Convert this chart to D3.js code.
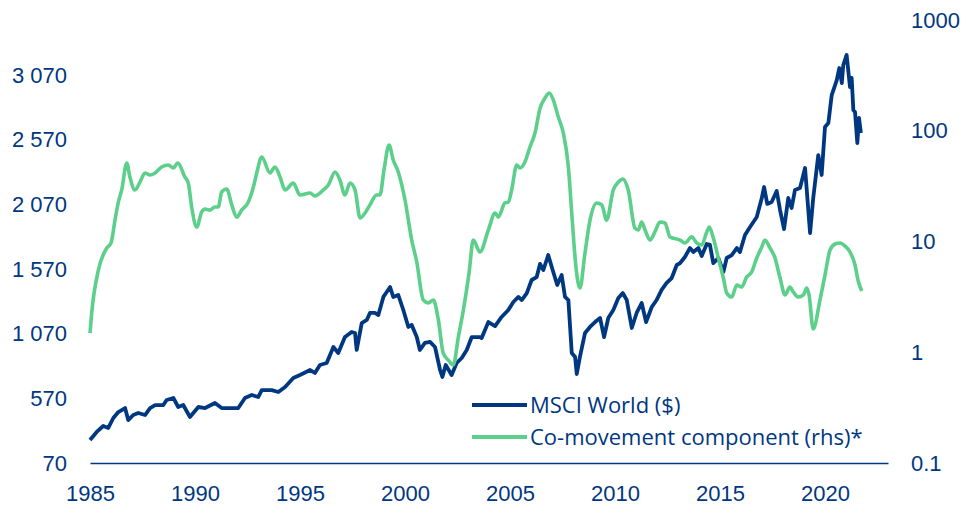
<!DOCTYPE html>
<html>
<head>
<meta charset="utf-8">
<script src="https://cdn.jsdelivr.net/npm/d3@7"></script>
<style>
  body { margin: 0; background: #fff; }
  svg { display: block; font-family: "Open Sans", sans-serif; }
  .axis text { fill: #003781; font-size: 22px; }
  .legend text { fill: #003781; font-size: 22px; }
</style>
</head>
<body>
<script>
// MSCI World ($), left axis
var msciYears = [1985.00,1985.32,1985.63,1985.87,1986.11,1986.35,1986.67,1986.82,1987.06,1987.30,1987.62,1987.86,
  1988.10,1988.49,1988.65,1988.97,1989.20,1989.44,1989.76,1990.16,1990.48,1990.95,1991.27,1991.75,1992.06,1992.38,
  1992.70,1993.01,1993.18,1993.65,1993.97,1994.29,1994.68,1995.00,1995.48,1995.71,1995.95,1996.27,1996.59,1996.82,
  1997.14,1997.46,1997.62,1997.70,1997.94,1998.18,1998.33,1998.57,1998.73,1998.97,1999.13,1999.29,1999.44,1999.68,
  1999.92,2000.16,2000.32,2000.56,2000.71,2000.95,2001.19,2001.43,2001.67,2001.78,2001.94,2002.22,2002.46,2002.70,
  2002.94,2003.18,2003.57,2003.65,2003.97,2004.29,2004.60,2004.92,2005.16,2005.40,2005.56,2005.80,2006.03,2006.27,
  2006.43,2006.59,2006.82,2007.06,2007.25,2007.46,2007.62,2007.78,2007.94,2008.10,2008.18,2008.33,2008.57,2008.81,
  2009.05,2009.29,2009.48,2009.68,2009.92,2010.16,2010.37,2010.56,2010.80,2011.03,2011.27,2011.48,2011.75,2011.98,
  2012.22,2012.46,2012.70,2012.94,2013.10,2013.33,2013.57,2013.73,2013.97,2014.13,2014.37,2014.52,2014.68,2014.92,
  2015.16,2015.32,2015.56,2015.80,2015.95,2016.19,2016.43,2016.75,2016.99,2017.10,2017.25,2017.46,2017.70,2017.86,
  2018.05,2018.25,2018.41,2018.57,2018.81,2019.05,2019.29,2019.44,2019.68,2019.84,2020.00,2020.16,2020.32,2020.56,
  2020.68,2020.80,2020.87,2021.03,2021.19,2021.27,2021.35,2021.43,2021.54,2021.62,2021.71];
var msciValues = [248,310,356,341,418,464,495,402,441,457,441,495,
  518,518,557,573,503,518,426,503,495,534,495,495,495,573,
  596,580,634,634,619,658,727,750,789,766,828,843,967,921,
  1044,1083,1075,944,1152,1176,1230,1230,1214,1354,1392,1431,1354,1369,
  1253,1122,1137,1044,944,998,1006,967,789,735,828,750,843,882,
  944,1044,1044,1036,1160,1129,1199,1253,1315,1354,1330,1384,1485,1508,
  1609,1562,1678,1547,1446,1524,1354,1330,921,890,758,890,1075,1122,
  1160,1191,1044,1191,1253,1346,1384,1330,1114,1230,1307,1160,1276,1330,
  1408,1462,1500,1601,1616,1663,1732,1701,1732,1671,1763,1756,1616,1655,
  1547,1655,1678,1732,1701,1833,1895,1972,2119,2204,2073,2088,2173,2026,
  1879,2119,2042,2181,2196,2351,1848,2119,2451,2297,2668,2699,2915,3031,
  3124,3008,3147,3225,2977,3047,2799,2784,2544,2738,2622];

// Co-movement component, right (log) axis
var coMoveYears = [1985.00,1985.08,1985.40,1985.80,1986.00,1986.19,1986.35,1986.51,1986.75,1986.90,1987.14,1987.38,
  1987.62,1987.86,1988.10,1988.41,1988.73,1988.97,1989.18,1989.52,1989.68,1989.84,1990.08,1990.32,1990.48,1990.71,
  1990.95,1991.11,1991.27,1991.51,1991.75,1991.99,1992.22,1992.54,1992.78,1992.94,1993.18,1993.57,1993.81,1994.05,
  1994.29,1994.68,1995.00,1995.48,1995.71,1996.11,1996.35,1996.67,1996.90,1997.14,1997.38,1997.62,1997.86,1998.10,
  1998.33,1998.65,1998.81,1999.00,1999.24,1999.44,1999.68,2000.00,2000.32,2000.56,2000.87,2001.11,2001.35,2001.59,
  2001.82,2002.06,2002.30,2002.54,2002.78,2003.05,2003.25,2003.57,2003.97,2004.29,2004.44,2004.76,2004.92,2005.08,
  2005.32,2005.48,2005.71,2005.95,2006.19,2006.43,2006.67,2006.87,2007.06,2007.30,2007.54,2007.78,2007.94,2008.14,
  2008.33,2008.57,2008.81,2009.13,2009.37,2009.60,2009.92,2010.16,2010.37,2010.63,2010.95,2011.11,2011.27,2011.43,
  2011.67,2011.90,2012.14,2012.38,2012.62,2013.10,2013.33,2013.65,2013.89,2014.13,2014.37,2014.49,2014.68,2014.92,
  2015.16,2015.32,2015.56,2015.80,2016.03,2016.27,2016.51,2016.75,2016.99,2017.14,2017.38,2017.62,2017.86,2018.10,
  2018.33,2018.49,2018.73,2018.97,2019.13,2019.24,2019.44,2019.76,2020.00,2020.24,2020.48,2020.71,2020.95,2021.19,
  2021.43,2021.57,2021.75];
var coMoveValues = [1.49,2.26,5.53,8.74,9.69,15.6,22.7,29.2,51.2,38.2,29.2,34.4,
  41.6,39.8,41.6,47.1,49.1,46.1,51.2,38.2,33.7,20.5,13.5,18.5,19.6,19.2,
  20.5,20.5,28.0,29.8,21.4,16.6,19.2,22.7,31.0,41.6,57.9,41.6,47.1,38.2,
  29.2,33.7,26.3,27.4,25.8,29.2,32.4,42.4,35.9,26.3,33.7,29.2,16.3,18.1,
  21.4,26.3,26.3,44.3,74.3,54.5,42.4,23.7,10.3,6.53,2.96,2.79,2.96,1.95,
  0.98,0.85,0.77,1.37,2.41,5.2,10.3,8.04,12.7,18.1,16.6,22.3,22.7,29.2,
  49.1,46.1,52.2,71.3,95.4,160,198,219,190,133,95.4,47.1,18.1,5.89,
  3.80,7.87,15.6,22.3,21.4,15.6,29.2,34.4,36.6,29.2,13.2,12.7,15.0,12.7,
  10.3,12.2,15.0,14.7,11.0,10.3,9.69,11.0,9.69,9.29,12.2,13.5,10.8,7.10,
  4.68,3.43,3.15,4.05,3.88,4.77,5.31,7.10,8.91,10.3,8.74,7.10,4.68,3.29,
  3.88,3.50,3.15,3.29,3.80,3.29,1.62,2.96,4.98,8.37,9.49,9.69,9.10,8.04,
  6.14,4.49,3.57];

var leftTicks = [70, 570, 1070, 1570, 2070, 2570, 3070];
var rightTicks = [0.1, 1, 10, 100, 1000];
var yearTicks = [1985, 1990, 1995, 2000, 2005, 2010, 2015, 2020];
var seriesNames = ["MSCI World ($)", "Co-movement component (rhs)*"];

var width = 965, height = 508;
var navy = "#003781", green = "#5ccf8b";

var svg = d3.select("body").append("svg")
  .attr("width", width)
  .attr("height", height);

var x = d3.scaleLinear().domain([1985, 2023]).range([90, 888]);
var yLeft = d3.scaleLinear().domain([70, 3070]).range([463, 75]);
var yRight = d3.scaleLog().domain([0.1, 1000]).range([463, 20]);

// left axis
var gl = svg.append("g").attr("class", "axis")
  .attr("transform", "translate(67,0)")
  .call(d3.axisLeft(yLeft).tickValues(leftTicks).tickSize(0).tickPadding(0)
    .tickFormat(function(d) { return d3.format(",")(d).replace(/,/g, " "); }));
gl.select(".domain").remove();

// right axis
var gr = svg.append("g").attr("class", "axis")
  .attr("transform", "translate(911,0)")
  .call(d3.axisRight(yRight).tickValues(rightTicks).tickSize(0).tickPadding(0)
    .tickFormat(function(d) { return String(d); }));
gr.select(".domain").remove();

// bottom axis
var gb = svg.append("g").attr("class", "axis")
  .attr("transform", "translate(0,463)")
  .call(d3.axisBottom(x).tickValues(yearTicks).tickSize(0).tickSizeOuter(0).tickPadding(22)
    .tickFormat(d3.format("d")));
gb.select(".domain").attr("stroke", navy).attr("stroke-width", 1.6);

var msci = msciYears.map(function(t, i) { return [t, msciValues[i]]; });
var coMove = coMoveYears.map(function(t, i) { return [t, coMoveValues[i]]; });

var lineLeft = d3.line()
  .x(function(d) { return x(d[0]); })
  .y(function(d) { return yLeft(d[1]); });

var lineRight = d3.line()
  .curve(d3.curveMonotoneX)
  .x(function(d) { return x(d[0]); })
  .y(function(d) { return yRight(d[1]); });

svg.append("path")
  .datum(msci)
  .attr("d", lineLeft)
  .attr("fill", "none")
  .attr("stroke", navy)
  .attr("stroke-width", 3.8)
  .attr("stroke-linejoin", "round");

svg.append("path")
  .datum(coMove)
  .attr("d", lineRight)
  .attr("fill", "none")
  .attr("stroke", green)
  .attr("stroke-width", 3.6)
  .attr("stroke-linejoin", "round");

// legend
var legend = svg.append("g").attr("class", "legend");
var legendColors = [navy, green];
seriesNames.forEach(function(name, i) {
  var ly = 405 + i * 32;
  legend.append("line")
    .attr("x1", 472).attr("x2", 527)
    .attr("y1", ly).attr("y2", ly)
    .attr("stroke", legendColors[i])
    .attr("stroke-width", 4);
  legend.append("text")
    .attr("x", 530).attr("y", ly)
    .attr("dy", "0.35em")
    .text(name);
});
</script>
</body>
</html>
